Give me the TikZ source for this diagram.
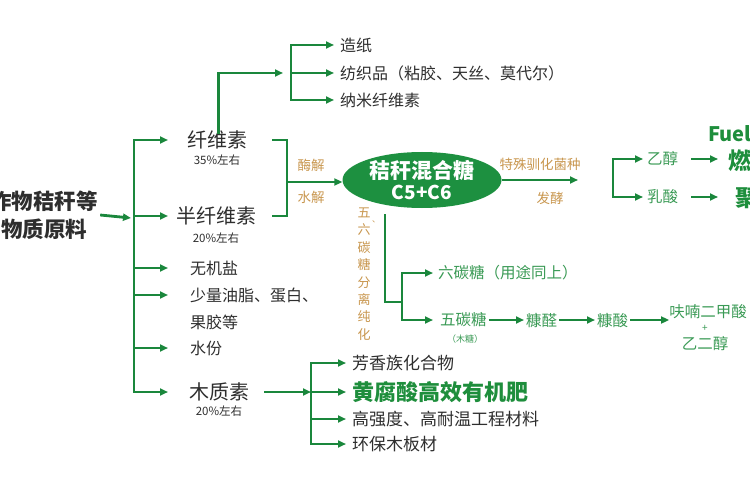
\documentclass[tikz,border=0pt]{standalone}
\usepackage{fontspec}
\setmainfont{Noto Sans CJK SC}
\usetikzlibrary{arrows.meta,shapes.geometric}
\definecolor{lg}{HTML}{1A873C}
\definecolor{efill}{HTML}{1D9040}
\definecolor{tg}{HTML}{2E2E2E}
\definecolor{tanc}{HTML}{C8964E}
\definecolor{gt}{HTML}{3A9A55}
\definecolor{bg}{HTML}{1E8E3C}
\begin{document}
\begin{tikzpicture}[x=1pt,y=-1pt,
  ln/.style={draw=lg,line width=2.8pt,line cap=rect},
  arr/.style={draw=lg,line width=2.8pt,-{Triangle[length=8pt,width=7pt]}},
  title/.style={font=\bfseries\fontsize{21.5}{28}\selectfont,align=center,text=tg,inner sep=0pt},
  mid/.style={font=\fontsize{20}{22}\selectfont,text=tg,inner sep=0pt},
  pct/.style={font=\fontsize{11.5}{13}\selectfont,text=tg,inner sep=0pt},
  txt/.style={font=\fontsize{16}{18}\selectfont,text=tg,inner sep=0pt,anchor=west},
  ltxt/.style={font=\fontsize{17}{19}\selectfont,text=tg,inner sep=0pt,anchor=west},
  gtxt/.style={font=\fontsize{15.5}{18}\selectfont,text=gt,inner sep=0pt,anchor=west},
  tanl/.style={font=\fontsize{13.5}{15}\selectfont,text=tanc,inner sep=0pt},
  bgtxt/.style={font=\bfseries\fontsize{21}{24}\selectfont,text=bg,inner sep=0pt,anchor=west}]
\useasboundingbox (0,0) rectangle (750,500);
\clip (0,0) rectangle (750,500);

% left source
\node[title] (raw) at (33.5,215) {农作物秸秆等\\生物质原料};
\coordinate (tin) at (131,218);
\coordinate (ae) at (168,0);
\draw[arr] ([xshift=2pt]raw.east) -- (tin);

% main nodes on trunk
\node[mid] (cel) at (217,140) {纤维素};
\node[pct] (celp) at (217,160) {35\%左右};
\node[mid] (hemi) at (216,216) {半纤维素};
\node[pct] (hemip) at (216,238) {20\%左右};
\node[txt] (salt) at (190,268) {无机盐};
\node[txt] (oil) at (190,295) {少量油脂、蛋白、};
\node[txt] (oil2) at (190,322) {果胶等};
\node[txt] (water) at (190,348) {水份};
\node[mid] (lig) at (219,392) {木质素};
\node[pct] (ligp) at (219,411) {20\%左右};

\coordinate (tx) at (134,0);
\draw[ln] (cel -| tx) -- (lig -| tx);
\foreach \n in {cel,hemi,salt,oil,water,lig}
  \draw[arr] (\n -| tx) -- (\n -| ae);

% upper branch from cellulose
\node[txt] (paper) at (340,45) {造纸};
\node[txt] (textile) at (340,73) {纺织品（粘胶、天丝、莫代尔）};
\node[txt] (nano) at (340,100) {纳米纤维素};
\coordinate (ub) at (291,0);
\coordinate (ua) at (283,0);
\coordinate (ue) at (334,0);
\draw[arr] ([xshift=1.5pt,yshift=-3pt]cel.north) |- (textile -| ua);
\draw[ln] (paper -| ub) -- (nano -| ub);
\foreach \n in {paper,textile,nano}
  \draw[arr] (\n -| ub) -- (\n -| ue);

% bracket to sugar
\coordinate (rs) at (273,0);
\coordinate (rb) at (287,0);
\draw[ln] (cel -| rs) -| (hemi -| rb) -- (hemi -| rs);
\node[ellipse,fill=efill,minimum width=159pt,minimum height=56pt,inner sep=0pt,text=white,align=center]
  (sugar) at (422,180) {\bfseries\fontsize{21}{23}\selectfont 秸秆混合糖\\[3pt]\bfseries\fontsize{19}{20}\selectfont C5+C6};
\coordinate (rm) at (287,182);
\draw[arr] (rm) -- (rm -| sugar.west);
\node[tanl] (mj) at (311,165) {酶解};
\node[tanl] (sj) at (311,197) {水解};

% fermentation
\coordinate (fe) at (578,0);
\draw[arr] (sugar.east) -- (sugar.east -| fe);
\node[tanl] (bac) at (540,164) {特殊驯化菌种};
\node[tanl] (fer) at (550,198) {发酵};
\node[gtxt] (eth) at (647,159) {乙醇};
\node[gtxt] (lac) at (647,197) {乳酸};
\coordinate (fb) at (613,0);
\coordinate (fa) at (643,0);
\draw[ln] (eth -| fb) -- (lac -| fb);
\draw[arr] (eth -| fb) -- (eth -| fa);
\draw[arr] (lac -| fb) -- (lac -| fa);
\node[bgtxt,font=\bfseries\fontsize{20}{22}\selectfont] (fuel) at (708,134) {Fuel Ethanol};
\node[bgtxt,font=\bfseries\fontsize{23}{25}\selectfont] (ranl) at (728,161) {燃料乙醇};
\node[bgtxt,font=\bfseries\fontsize{23}{25}\selectfont] (pla) at (735,198) {聚乳酸};
\coordinate (fz) at (718,0);
\draw[arr] ([xshift=13pt]eth.east) -- (eth -| fz);
\draw[arr] ([xshift=13pt]lac.east) -- (lac -| fz);

% separation of C5/C6
\node[tanl,align=center,font=\fontsize{13}{17.4}\selectfont] (vt) at (364,274) {五\\六\\碳\\糖\\分\\离\\纯\\化};
\node[tanl,font=\fontsize{8}{9}\selectfont] (dun) at (376,222) {、};
\coordinate (vs) at (385,215);
\coordinate (vj) at (402,302);
\draw[ln] (vs) |- (vj);
\node[gtxt] (six) at (438,273) {六碳糖（用途同上）};
\node[gtxt,inner xsep=2pt] (five) at (438,320) {五碳糖};
\node[gtxt,font=\fontsize{9}{10}\selectfont] (xyl) at (447,339) {（木糖）};
\coordinate (vb) at (402,0);
\coordinate (va) at (433,0);
\draw[ln] (six -| vb) -- (five -| vb);
\draw[arr] (six -| vb) -- (six -| va);
\draw[arr] (five -| vb) -- (five -| va);
\node[gtxt,inner xsep=2pt] (fur) at (524,320) {糠醛};
\node[gtxt,inner xsep=2pt] (fura) at (595,320) {糠酸};
\node[gtxt,font=\fontsize{15.5}{18}\selectfont,anchor=center] (fdca) at (708,312) {呋喃二甲酸};
\node[gtxt,font=\fontsize{10}{11}\selectfont,anchor=center] (plus) at (705,328) {+};
\node[gtxt,anchor=center] (eg) at (705,344) {乙二醇};
\draw[arr] (five.east) -- (fur.west);
\draw[arr] (fur.east) -- (fura.west);
\draw[arr] (fura.east) -- (fura.east -| fdca.west);

% lignin products
\node[ltxt] (arom) at (352,363) {芳香族化合物};
\node[bgtxt,font=\bfseries\fontsize{22}{24}\selectfont] (humic) at (352,392) {黄腐酸高效有机肥};
\node[ltxt] (eng) at (352,419) {高强度、高耐温工程材料};
\node[ltxt] (board) at (352,444) {环保木板材};
\coordinate (lb) at (311,0);
\coordinate (le) at (346,0);
\draw[arr] ([xshift=15pt]lig.east) -- (humic -| lb);
\draw[ln] (arom -| lb) -- (board -| lb);
\foreach \n in {arom,humic,eng,board}
  \draw[arr] (\n -| lb) -- (\n -| le);
\end{tikzpicture}
\end{document}
